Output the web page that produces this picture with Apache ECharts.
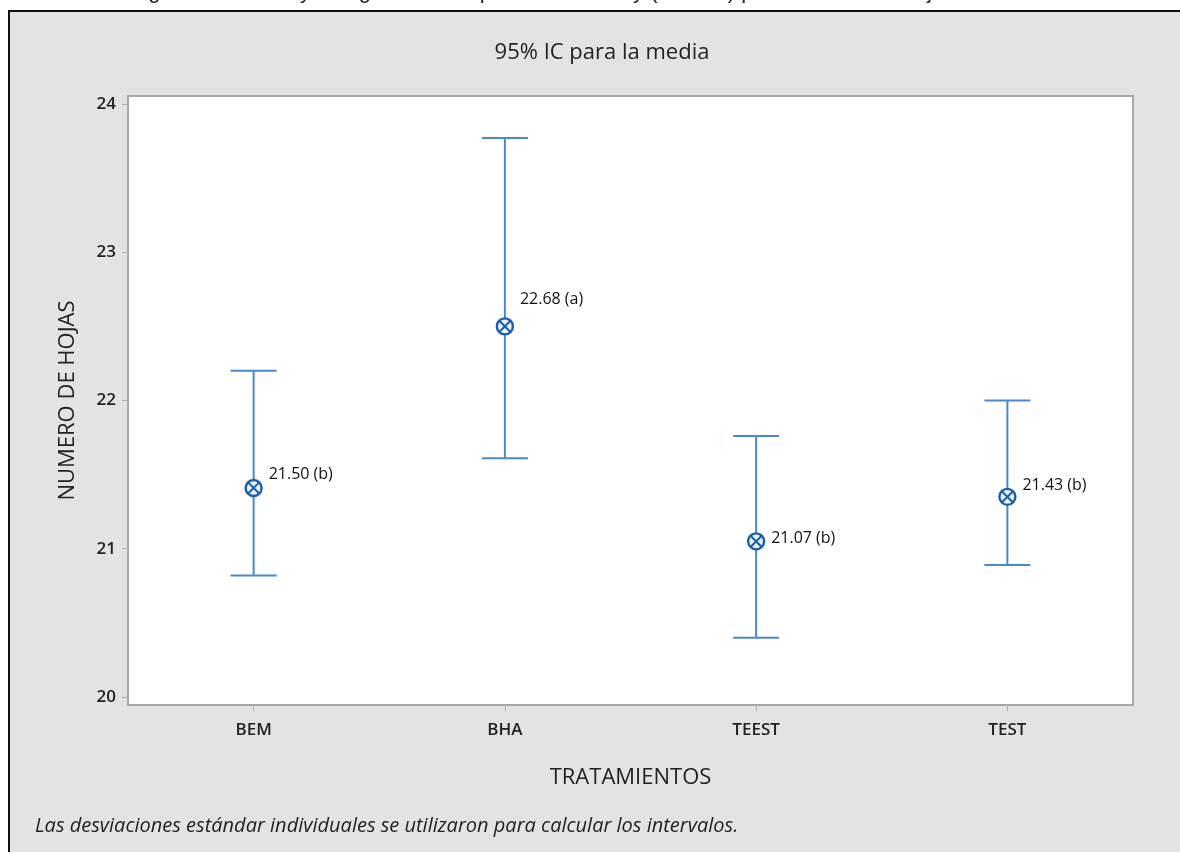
<!DOCTYPE html>
<html>
<head>
<meta charset="utf-8">
<title>95% IC para la media</title>
<script src="https://cdn.jsdelivr.net/npm/echarts@6/dist/echarts.min.js"></script>
<style>
    html, body { margin: 0; padding: 0; background: #fff; }
    #chart { width: 1180px; height: 852px; }
</style>
</head>
<body>
<div id="chart"></div>
<script>
// tratamientos
const categories = ['BEM', 'BHA', 'TEEST', 'TEST']
// intervalo de confianza 95%
const ciLow = [20.82, 21.61, 20.40, 20.89]
const ciHigh = [22.20, 23.77, 21.76, 22.00]
const means = [21.41, 22.50, 21.05, 21.35]
// etiquetas de Tukey
const labelValues = [21.50, 22.68, 21.07, 21.43]
const letters = ['b', 'a', 'b', 'b']
const yTicks = [20, 21, 22, 23, 24]

const lineColor = '#4a88c9'
const markColor = '#1d5ea8'
const fontColor = '#222'
const fontFamily = '"Open Sans", "Noto Sans", sans-serif'

const myChart = echarts.init(document.getElementById('chart'))

const option = {
    backgroundColor: '#fff',
    animation: false,
    graphic: [
        {
            type: 'rect',
            z: -10,
            shape: { x: 9, y: 11, width: 1300, height: 900 },
            style: { fill: '#e3e3e3', stroke: '#111', lineWidth: 2 }
        },
        {
            // pie de figura cortado arriba
            type: 'text',
            left: 130,
            top: -19,
            style: {
                text: 'Figura 3. Medias y categorías de la prueba de Tukey (P<0.05) para número de hojas',
                fill: '#222',
                font: '22px "Liberation Sans", Arial, sans-serif'
            }
        },
        {
            type: 'text',
            x: 602,
            y: 53,
            style: {
                text: '95% IC para la media',
                fill: fontColor,
                font: '22px "Open Sans", "Noto Sans", sans-serif',
                textAlign: 'center',
                textVerticalAlign: 'middle'
            }
        },
        {
            type: 'text',
            left: 35,
            top: 816,
            style: {
                text: 'Las desviaciones estándar individuales se utilizaron para calcular los intervalos.',
                fill: fontColor,
                font: 'italic 20px "Open Sans", "Noto Sans", sans-serif'
            }
        }
    ],
    grid: {
        left: 128,
        right: 47,
        top: 96,
        bottom: 147,
        show: true,
        backgroundColor: '#fff',
        borderColor: '#a8a8a8',
        borderWidth: 2
    },
    xAxis: {
        type: 'category',
        data: categories,
        name: 'TRATAMIENTOS',
        nameLocation: 'middle',
        nameGap: 62,
        nameTextStyle: { color: fontColor, fontSize: 22, fontFamily: fontFamily },
        axisLine: { show: false },
        axisTick: { show: true, alignWithLabel: true, length: 6, lineStyle: { color: '#b0b0b0' } },
        axisLabel: { color: fontColor, fontSize: 17, fontWeight: 600, margin: 17, fontFamily: fontFamily },
        splitLine: { show: false }
    },
    yAxis: {
        type: 'value',
        min: 19.946,
        max: 24.054,
        name: 'NUMERO DE HOJAS',
        nameLocation: 'middle',
        nameGap: 49,
        nameTextStyle: { color: fontColor, fontSize: 22, fontFamily: fontFamily },
        axisLine: { show: false },
        axisTick: { show: true, length: 6, customValues: yTicks, lineStyle: { color: '#b0b0b0' } },
        axisLabel: { color: fontColor, fontSize: 17, fontWeight: 600, margin: 12, fontFamily: fontFamily, customValues: yTicks },
        splitLine: { show: false }
    },
    series: [
        {
            name: 'IC',
            type: 'custom',
            data: categories.map((c, i) => [i, ciLow[i], ciHigh[i]]),
            renderItem(params, api) {
                const lo = api.coord([api.value(0), api.value(1)])
                const hi = api.coord([api.value(0), api.value(2)])
                const half = 23
                const style = { stroke: lineColor, lineWidth: 2 }
                return {
                    type: 'group',
                    children: [
                        { type: 'line', shape: { x1: hi[0], y1: hi[1], x2: lo[0], y2: lo[1] }, style },
                        { type: 'line', shape: { x1: hi[0] - half, y1: hi[1], x2: hi[0] + half, y2: hi[1] }, style },
                        { type: 'line', shape: { x1: lo[0] - half, y1: lo[1], x2: lo[0] + half, y2: lo[1] }, style }
                    ]
                }
            },
            z: 2
        },
        {
            name: 'Media',
            type: 'custom',
            data: categories.map((c, i) => [i, means[i]]),
            renderItem(params, api) {
                const p = api.coord([api.value(0), api.value(1)])
                const r = 8
                const d = r * 0.7
                const style = { stroke: markColor, lineWidth: 2 }
                return {
                    type: 'group',
                    children: [
                        { type: 'circle', shape: { cx: p[0], cy: p[1], r: r }, style: { fill: '#e8f0fa', stroke: markColor, lineWidth: 2.4 } },
                        { type: 'line', shape: { x1: p[0] - d, y1: p[1] - d, x2: p[0] + d, y2: p[1] + d }, style },
                        { type: 'line', shape: { x1: p[0] - d, y1: p[1] + d, x2: p[0] + d, y2: p[1] - d }, style }
                    ]
                }
            },
            z: 3
        },
        {
            name: 'Tukey',
            type: 'scatter',
            symbolSize: 0,
            data: categories.map((c, i) => [i, labelValues[i]]),
            label: {
                show: true,
                position: 'right',
                distance: 15,
                color: '#111',
                opacity: 1,
                fontSize: 16,
                fontFamily: fontFamily,
                formatter: p => labelValues[p.dataIndex].toFixed(2) + ' (' + letters[p.dataIndex] + ')'
            },
            emphasis: { disabled: true },
            z: 4
        }
    ]
}
myChart.setOption(option)
</script>
</body>
</html>
